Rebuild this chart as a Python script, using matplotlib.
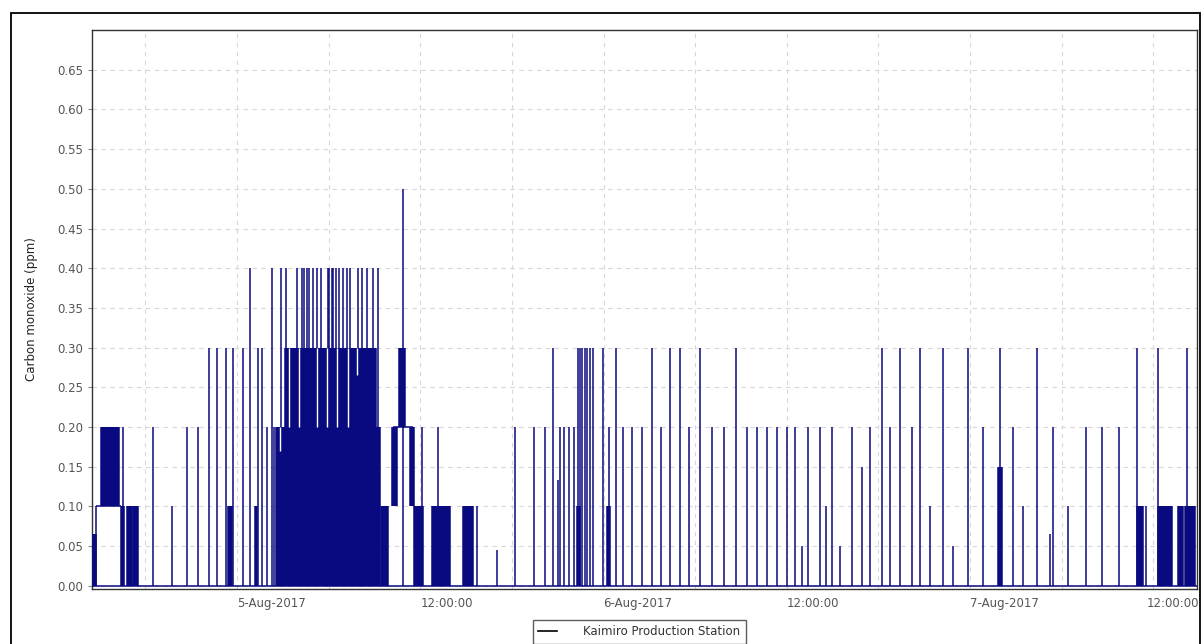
import datetime as dt
import matplotlib
matplotlib.use('Agg')
import matplotlib.pyplot as plt
import matplotlib.dates as mdates
from matplotlib.lines import Line2D
from matplotlib.patches import Rectangle
from matplotlib.ticker import FixedLocator

# hours after 5-Aug-2017 00:00
start_hour = -9.5
end_hour = 62.87

# single readings (spikes), hour and ppm
spike_hours = [-9.23, -7.47, -5.50, -4.26, -3.27, -2.55, -1.83, -1.31, -0.72, -0.26,
               0.39, 0.85, 1.38, 1.64, 1.96, 2.29, 2.42,
               2.88, 3.21, 3.91, 4.24, 4.41, 4.56, 4.73, 5.00, 5.22, 5.48, 5.94, 6.04,
               6.20, 6.31, 6.48, 6.70, 6.96, 7.18, 7.40, 7.94, 8.17, 8.49, 8.93, 9.25,
               10.87, 12.10, 13.16, 15.72, 17.03, 18.20,
               19.45, 20.17, 20.69, 21.02, 21.15, 21.41, 21.74, 22.07, 22.33, 22.46,
               22.59, 22.79, 22.92, 23.12, 23.31, 23.97, 24.36, 24.82, 25.28, 25.87,
               26.52, 27.18, 27.77, 28.36, 29.01, 29.60, 30.32, 31.11, 31.89, 32.68,
               33.40, 34.05, 34.71, 35.36, 36.02, 36.54, 37.00, 37.39, 38.18, 38.57,
               38.97, 39.49, 40.28, 40.93, 41.45, 42.24, 42.76, 43.42, 44.20, 44.73,
               45.38, 46.23, 46.89, 47.87, 48.85, 49.97, 50.82, 51.47, 52.39, 53.24,
               53.44, 54.42, 55.60, 56.65, 57.76, 58.94, 59.53, 60.31, 62.21]
spike_ppm = [0.10, 0.20, 0.20, 0.10, 0.20, 0.20, 0.30, 0.30, 0.30, 0.30,
             0.30, 0.40, 0.30, 0.30, 0.20, 0.40, 0.20,
             0.40, 0.40, 0.40, 0.40, 0.40, 0.40, 0.40, 0.40, 0.40, 0.40, 0.40, 0.40,
             0.40, 0.40, 0.40, 0.40, 0.40, 0.40, 0.40, 0.40, 0.40, 0.40, 0.40, 0.40,
             0.50, 0.20, 0.20, 0.10, 0.045, 0.20,
             0.20, 0.20, 0.30, 0.133, 0.20, 0.20, 0.20, 0.20, 0.30, 0.30,
             0.30, 0.30, 0.30, 0.30, 0.30, 0.30, 0.20, 0.30, 0.20, 0.20,
             0.20, 0.30, 0.20, 0.30, 0.30, 0.20, 0.30, 0.20, 0.20, 0.30,
             0.20, 0.20, 0.20, 0.20, 0.20, 0.20, 0.05, 0.20, 0.20, 0.10,
             0.20, 0.05, 0.20, 0.15, 0.20, 0.30, 0.20, 0.30, 0.20, 0.30,
             0.10, 0.30, 0.05, 0.30, 0.20, 0.30, 0.20, 0.10, 0.30, 0.065,
             0.20, 0.10, 0.20, 0.20, 0.20, 0.30, 0.10, 0.30, 0.30]

# periods where readings flip fast between two levels
band_start = [-9.43, -8.91, -7.60, -7.20, -6.81, -0.59, 1.18, 2.55, 3.14, 9.43,
              10.15, 10.61, 11.33, 11.59, 12.77, 14.80, 22.27, 24.23, 49.84,
              58.94, 60.31, 61.62, 62.08]
band_end = [-9.27, -7.73, -7.40, -6.88, -6.48, -0.33, 1.31, 9.36, 9.10, 9.89,
            10.48, 11.00, 11.59, 12.18, 13.95, 15.45, 22.46, 24.43, 50.10,
            59.33, 61.23, 61.95, 62.74]
band_low = [0.0, 0.10, 0.0, 0.0, 0.0, 0.0, 0.0, 0.0, 0.20, 0.0,
            0.10, 0.20, 0.10, 0.0, 0.0, 0.0, 0.0, 0.0, 0.0,
            0.0, 0.0, 0.0, 0.0]
band_high = [0.065, 0.20, 0.10, 0.10, 0.10, 0.10, 0.10, 0.20, 0.30, 0.10,
             0.20, 0.30, 0.20, 0.10, 0.10, 0.10, 0.10, 0.10, 0.15,
             0.10, 0.10, 0.10, 0.10]

# steady stretches
level_start = [-9.23, 10.22]
level_end = [-7.60, 11.53]
level_ppm = [0.10, 0.20]

# short drops inside the busy period
dip_hours = [2.82, 3.41, 4.06, 5.24, 5.89, 6.55, 7.27, 7.86]
dip_low = [0.17, 0.20, 0.20, 0.20, 0.20, 0.20, 0.20, 0.265]
dip_high = [0.20, 0.30, 0.30, 0.30, 0.30, 0.30, 0.30, 0.30]

y_ticks = [0.00, 0.05, 0.10, 0.15, 0.20, 0.25, 0.30, 0.35, 0.40, 0.45, 0.50, 0.55, 0.60, 0.65]
x_label_hours = [0, 12, 24, 36, 48, 60]
x_labels = ['5-Aug-2017', '12:00:00', '6-Aug-2017', '12:00:00', '7-Aug-2017', '12:00:00']

navy = '#0a0a80'
day0 = mdates.date2num(dt.datetime(2017, 8, 5))


def to_date(hours):
    return [day0 + h / 24.0 for h in hours]


plt.rcParams['font.family'] = ['DejaVu Sans']
fig = plt.figure(figsize=(12.02, 6.44), dpi=100)
ax = fig.add_axes([92 / 1202, 1 - 589 / 644, 1105 / 1202, 559 / 644])

# bands
bs = to_date(band_start)
be = to_date(band_end)
ax.bar(bs, [h - l for h, l in zip(band_high, band_low)], width=[e - s for s, e in zip(bs, be)],
       bottom=band_low, align='edge', color=navy, linewidth=0, zorder=3)
ax.vlines(bs + be, band_low + band_low, band_high + band_high, color=navy, lw=1.1, zorder=3)
# levels
ax.hlines(level_ppm, to_date(level_start), to_date(level_end), color=navy, lw=1.1, zorder=3)
# spikes
ax.vlines(to_date(spike_hours), 0, spike_ppm, color=navy, lw=1.1, zorder=4)
# dips
ax.vlines(to_date(dip_hours), dip_low, dip_high, color='white', lw=1.0, zorder=5)
# zero line
ax.hlines(0, day0 + start_hour / 24, day0 + end_hour / 24, color=navy, lw=1.1, zorder=3)

ax.set_xlim(day0 + start_hour / 24, day0 + end_hour / 24)
ax.set_ylim(-0.004, 0.70)

ax.xaxis.set_major_locator(FixedLocator(to_date(x_label_hours)))
ax.xaxis.set_minor_locator(FixedLocator(to_date([h + 6 for h in x_label_hours] + [-6])))
# last label is drawn separately, pulled in so it stays inside the frame
ax.set_xticklabels(x_labels[:-1] + [''])
for lab in ax.get_xticklabels():
    lab.set_horizontalalignment('left')
ax.tick_params(axis='x', which='both', length=0, pad=6, labelsize=8.5, labelcolor='#555555')
ax.annotate(x_labels[-1], xy=(to_date(x_label_hours[-1:])[0], 0), xycoords=ax.get_xaxis_transform(),
            xytext=(-4.5, -6 * 100 / 72 * 0.72), textcoords='offset points', ha='left', va='top',
            fontsize=8.5, color='#555555', annotation_clip=False)

ax.set_yticks(y_ticks)
ax.set_yticklabels(['%.2f' % v for v in y_ticks])
ax.tick_params(axis='y', length=3, color='#888888', pad=3.5, labelsize=8.5, labelcolor='#555555')

ax.grid(True, which='both', color='#d8d8d8', linestyle=(0, (4, 4)), lw=0.8, zorder=0)
for s in ax.spines.values():
    s.set_color('#333333')
    s.set_linewidth(1.0)

ax.set_ylabel('Carbon monoxide (ppm)', fontsize=8.5, color='#222222', labelpad=14)

# outer frame
fig.add_artist(Rectangle((11 / 1202, -0.05), 1189 / 1202, 1.05 - 13 / 644, transform=fig.transFigure,
                         fill=False, edgecolor='black', lw=1.3))

leg = fig.legend(handles=[Line2D([], [], color='black', lw=1.2)], labels=['Kaimiro Production Station'],
                 loc='upper left', bbox_to_anchor=(533 / 1202, 1 - 620 / 644), frameon=True, fancybox=False,
                 fontsize=8.5, handlelength=1.6, borderpad=0.45, handletextpad=2.2, borderaxespad=0)
leg.get_frame().set_edgecolor('#333333')
leg.get_frame().set_linewidth(1.0)
for t in leg.get_texts():
    t.set_color('#333333')

fig.savefig('out.png', dpi=100)
